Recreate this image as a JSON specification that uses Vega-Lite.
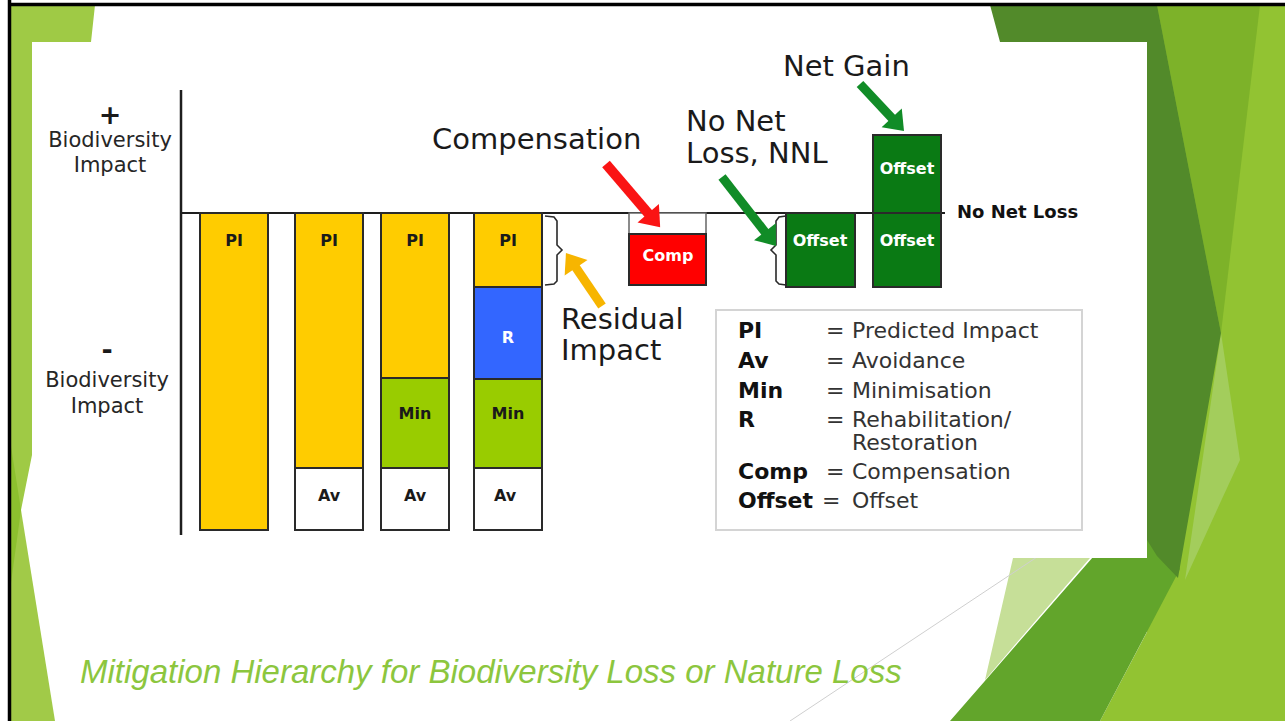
{
"$schema":"https://vega.github.io/schema/vega-lite/v6.json",
"width":1285,"height":721,"padding":0,"autosize":{"type":"none"},
"background":"#ffffff",
"config":{"view":{"stroke":null}},
"datasets":{
"decor":[
{"poly":"rBase","x":1100,"y":-508,"y2":-508},{"poly":"rBase","x":1147,"y":-419,"y2":-508},{"poly":"rBase","x":1147.01,"y":208,"y2":-508},{"poly":"rBase","x":1285,"y":208,"y2":-508},
{"poly":"leftA","x":10,"y":208,"y2":-297},{"poly":"leftA","x":21,"y":208,"y2":-297},{"poly":"leftA","x":32,"y":208,"y2":-242},{"poly":"leftA","x":32.01,"y":208,"y2":171},{"poly":"leftA","x":91,"y":208,"y2":171},{"poly":"leftA","x":95,"y":208,"y2":208},
{"poly":"leftB","x":10,"y":-297,"y2":-508},{"poly":"leftB","x":21,"y":-297,"y2":-508},{"poly":"leftB","x":55,"y":-508,"y2":-508},
{"poly":"leftShade","x":10,"y":-227,"y2":-377},{"poly":"leftShade","x":21,"y":-297,"y2":-297},
{"poly":"rMid","x":1157,"y":208,"y2":208},{"poly":"rMid","x":1221,"y":208,"y2":-120},{"poly":"rMid","x":1260,"y":208,"y2":208},
{"poly":"rPale2","x":1185,"y":-367,"y2":-367},{"poly":"rPale2","x":1221,"y":-120,"y2":-288},{"poly":"rPale2","x":1240,"y":-247,"y2":-247},
{"poly":"rPaleB","x":985,"y":-467,"y2":-467},{"poly":"rPaleB","x":1013,"y":-345,"y2":-434},{"poly":"rPaleB","x":1090,"y":-345,"y2":-345},
{"poly":"rMed","x":950,"y":-508,"y2":-508},{"poly":"rMed","x":1100,"y":-336,"y2":-508},{"poly":"rMed","x":1160,"y":-267,"y2":-394},{"poly":"rMed","x":1180,"y":-356,"y2":-356},
{"poly":"rDark","x":990,"y":208,"y2":208},{"poly":"rDark","x":1000,"y":208,"y2":171},{"poly":"rDark","x":1147,"y":208,"y2":-327},{"poly":"rDark","x":1157,"y":208,"y2":-343},{"poly":"rDark","x":1178,"y":100,"y2":-365},{"poly":"rDark","x":1221,"y":-120,"y2":-120}
],
"lines":[
{"name":"frameTop","x":8,"y":208.5,"x2":1285,"y2":208.5},
{"name":"frameLeft","x":9.5,"y":213,"x2":9.5,"y2":-508},
{"name":"axisV","x":181,"y":123,"x2":181,"y2":-322},
{"name":"axisH","x":181,"y":0,"x2":945,"y2":0},
{"name":"grey","x":790,"y":-508,"x2":1037,"y2":-344}
],
"boxes":[
{"name":"slide","x":32,"x2":1147,"y":171,"y2":-345},
{"name":"legend","x":716,"x2":1082,"y":-97,"y2":-317},
{"name":"compFrame","x":629,"x2":706,"y":0,"y2":-72}
],
"bars":[
{"col":"1","seg":"PI","x":200,"x2":268,"y":0,"y2":-317},
{"col":"2","seg":"PI","x":295,"x2":363,"y":0,"y2":-255},
{"col":"2","seg":"Av","x":295,"x2":363,"y":-255,"y2":-317},
{"col":"3","seg":"PI","x":381,"x2":449,"y":0,"y2":-165},
{"col":"3","seg":"Min","x":381,"x2":449,"y":-165,"y2":-255},
{"col":"3","seg":"Av","x":381,"x2":449,"y":-255,"y2":-317},
{"col":"4","seg":"PI","x":474,"x2":542,"y":0,"y2":-74},
{"col":"4","seg":"R","x":474,"x2":542,"y":-74,"y2":-166},
{"col":"4","seg":"Min","x":474,"x2":542,"y":-166,"y2":-255},
{"col":"4","seg":"Av","x":474,"x2":542,"y":-255,"y2":-317},
{"col":"Comp","seg":"Comp","x":629,"x2":706,"y":-21,"y2":-72},
{"col":"NNL","seg":"Offset","x":786,"x2":855,"y":0,"y2":-74},
{"col":"NG","seg":"Offset","x":873,"x2":941,"y":78,"y2":0},
{"col":"NG","seg":"Offset","x":873,"x2":941,"y":0,"y2":-74}
],
"brackets":[
{"name":"res","o":1,"x":545,"y":-3},{"name":"res","o":2,"x":554,"y":-4},{"name":"res","o":3,"x":557,"y":-8},{"name":"res","o":4,"x":557,"y":-32},{"name":"res","o":5,"x":562,"y":-37},{"name":"res","o":6,"x":557,"y":-42},{"name":"res","o":7,"x":557,"y":-68},{"name":"res","o":8,"x":554,"y":-71},{"name":"res","o":9,"x":545,"y":-72},
{"name":"nnl","o":1,"x":786,"y":-3},{"name":"nnl","o":2,"x":779,"y":-4},{"name":"nnl","o":3,"x":776,"y":-8},{"name":"nnl","o":4,"x":776,"y":-32},{"name":"nnl","o":5,"x":771,"y":-37},{"name":"nnl","o":6,"x":776,"y":-42},{"name":"nnl","o":7,"x":776,"y":-68},{"name":"nnl","o":8,"x":779,"y":-71},{"name":"nnl","o":9,"x":786,"y":-72}
],
"shafts":[
{"name":"red","x":606,"y":49,"x2":649.6,"y2":-1.9},
{"name":"yellow","x":602,"y":-93,"x2":575,"y2":-53.2},
{"name":"gnnl","x":722,"y":36,"x2":766.1,"y2":-20.4},
{"name":"gng","x":860,"y":129,"x2":893.1,"y2":93.7}
],
"heads":[
{"name":"red","x":652.2,"y":-4.9},
{"name":"yellow","x":572.7,"y":-49.9},
{"name":"gnnl","x":768.6,"y":-23.5},
{"name":"gng","x":895.8,"y":90.8}
],
"texts":[
{"g":"big","t":"Compensation","x":432,"y":73},
{"g":"big","t":"No Net","x":686,"y":91},
{"g":"big","t":"Loss, NNL","x":686,"y":59},
{"g":"big","t":"Net Gain","x":783,"y":146},
{"g":"big","t":"Residual","x":561,"y":-107},
{"g":"big","t":"Impact","x":561,"y":-138},
{"g":"axis","t":"Biodiversity","x":110,"y":72},
{"g":"axis","t":"Impact","x":110,"y":47},
{"g":"axis","t":"Biodiversity","x":107,"y":-168},
{"g":"axis","t":"Impact","x":107,"y":-194},
{"g":"sign","t":"+","x":110,"y":97},
{"g":"sign","t":"-","x":107,"y":-138},
{"g":"nnl","t":"No Net Loss","x":957,"y":0},
{"g":"legb","t":"PI","x":738,"y":-118},
{"g":"legb","t":"Av","x":738,"y":-148},
{"g":"legb","t":"Min","x":738,"y":-178},
{"g":"legb","t":"R","x":738,"y":-207},
{"g":"legb","t":"Comp","x":738,"y":-259},
{"g":"legb","t":"Offset","x":738,"y":-288},
{"g":"leg","t":"=","x":826,"y":-118},
{"g":"leg","t":"=","x":826,"y":-148},
{"g":"leg","t":"=","x":826,"y":-178},
{"g":"leg","t":"=","x":826,"y":-207},
{"g":"leg","t":"=","x":826,"y":-259},
{"g":"leg","t":"=","x":822,"y":-288},
{"g":"leg","t":"Predicted Impact","x":852,"y":-118},
{"g":"leg","t":"Avoidance","x":852,"y":-148},
{"g":"leg","t":"Minimisation","x":852,"y":-178},
{"g":"leg","t":"Rehabilitation/","x":852,"y":-207},
{"g":"leg","t":"Restoration","x":852,"y":-230},
{"g":"leg","t":"Compensation","x":852,"y":-259},
{"g":"leg","t":"Offset","x":852,"y":-288},
{"g":"bard","t":"PI","x":234,"y":-28},
{"g":"bard","t":"PI","x":329,"y":-28},
{"g":"bard","t":"PI","x":415,"y":-28},
{"g":"bard","t":"PI","x":508,"y":-28},
{"g":"bard","t":"Av","x":329,"y":-283},
{"g":"bard","t":"Av","x":415,"y":-283},
{"g":"bard","t":"Av","x":505,"y":-283},
{"g":"bard","t":"Min","x":415,"y":-201},
{"g":"bard","t":"Min","x":508,"y":-201},
{"g":"barw","t":"R","x":508,"y":-125},
{"g":"barw","t":"Comp","x":668,"y":-43},
{"g":"barw","t":"Offset","x":820,"y":-28},
{"g":"barw","t":"Offset","x":907,"y":-28},
{"g":"barw","t":"Offset","x":907,"y":44},
{"g":"title","t":"Mitigation Hierarchy for Biodiversity Loss or Nature Loss","x":80,"y":-460}
]
},
"encoding":{
"x":{"field":"x","type":"quantitative","scale":{"domain":[0,1285],"nice":false,"zero":false},"axis":null},
"y":{"field":"y","type":"quantitative","scale":{"domain":[-508,213],"nice":false,"zero":false},"axis":null}
},
"layer":[
{"data":{"name":"decor"},"transform":[{"filter":{"field":"poly","oneOf":["rBase","leftA","leftB"]}}],
 "mark":{"type":"area","opacity":1},
 "encoding":{"y2":{"field":"y2"},"y":{"field":"y","type":"quantitative","stack":null},
  "color":{"field":"poly","type":"nominal","legend":null,"scale":{"domain":["rBase","leftA","leftB","leftShade","rMid","rPale2","rPaleB","rMed","rDark"],"range":["#92c332","#9fca45","#a1ca48","#8cc02e","#7db229","#a3cd5c","#c6df98","#62a52b","#528a2a"]}}}},
{"data":{"name":"decor"},"transform":[{"filter":{"field":"poly","oneOf":["rMid","rPale2","rPaleB","leftShade"]}}],
 "mark":{"type":"area","opacity":1},
 "encoding":{"y2":{"field":"y2"},"y":{"field":"y","type":"quantitative","stack":null},
  "color":{"field":"poly","type":"nominal","legend":null,"scale":{"domain":["rBase","leftA","leftB","leftShade","rMid","rPale2","rPaleB","rMed","rDark"],"range":["#92c332","#9fca45","#a1ca48","#8cc02e","#7db229","#a3cd5c","#c6df98","#62a52b","#528a2a"]}}}},
{"data":{"name":"decor"},"transform":[{"filter":{"field":"poly","oneOf":["rMed"]}}],
 "mark":{"type":"area","opacity":1},
 "encoding":{"y2":{"field":"y2"},"y":{"field":"y","type":"quantitative","stack":null},
  "color":{"field":"poly","type":"nominal","legend":null,"scale":{"domain":["rBase","leftA","leftB","leftShade","rMid","rPale2","rPaleB","rMed","rDark"],"range":["#92c332","#9fca45","#a1ca48","#8cc02e","#7db229","#a3cd5c","#c6df98","#62a52b","#528a2a"]}}}},
{"data":{"name":"decor"},"transform":[{"filter":{"field":"poly","oneOf":["rDark"]}}],
 "mark":{"type":"area","opacity":1},
 "encoding":{"y2":{"field":"y2"},"y":{"field":"y","type":"quantitative","stack":null},
  "color":{"field":"poly","type":"nominal","legend":null,"scale":{"domain":["rBase","leftA","leftB","leftShade","rMid","rPale2","rPaleB","rMed","rDark"],"range":["#92c332","#9fca45","#a1ca48","#8cc02e","#7db229","#a3cd5c","#c6df98","#62a52b","#528a2a"]}}}},
{"data":{"name":"lines"},"transform":[{"filter":"datum.name=='grey'"}],
 "mark":{"type":"rule","stroke":"#cfcfcf","strokeWidth":1},
 "encoding":{"x2":{"field":"x2"},"y2":{"field":"y2"}}},
{"data":{"name":"boxes"},"transform":[{"filter":"datum.name=='slide'"}],
 "mark":{"type":"rect","fill":"#ffffff","stroke":null},
 "encoding":{"x2":{"field":"x2"},"y2":{"field":"y2"}}},
{"data":{"name":"lines"},"transform":[{"filter":"datum.name=='frameTop' || datum.name=='frameLeft'"}],
 "mark":{"type":"rule","stroke":"#000000","strokeWidth":3.5},
 "encoding":{"x2":{"field":"x2"},"y2":{"field":"y2"}}},
{"data":{"name":"boxes"},"transform":[{"filter":"datum.name=='legend'"}],
 "mark":{"type":"rect","fill":"#ffffff","stroke":"#d4d4d4","strokeWidth":2},
 "encoding":{"x2":{"field":"x2"},"y2":{"field":"y2"}}},
{"data":{"name":"lines"},"transform":[{"filter":"datum.name=='axisV'"}],
 "mark":{"type":"rule","stroke":"#1e1e1e","strokeWidth":2.5},
 "encoding":{"x2":{"field":"x2"},"y2":{"field":"y2"}}},
{"data":{"name":"lines"},"transform":[{"filter":"datum.name=='axisH'"}],
 "mark":{"type":"rule","stroke":"#1e1e1e","strokeWidth":2},
 "encoding":{"x2":{"field":"x2"},"y2":{"field":"y2"}}},
{"data":{"name":"boxes"},"transform":[{"filter":"datum.name=='compFrame'"}],
 "mark":{"type":"rect","fill":"#ffffff","stroke":"#666666","strokeWidth":1.5},
 "encoding":{"x2":{"field":"x2"},"y2":{"field":"y2"}}},
{"data":{"name":"bars"},
 "mark":{"type":"rect","stroke":"#2a2a2a","strokeWidth":2},
 "encoding":{"x2":{"field":"x2"},"y2":{"field":"y2"},
  "fill":{"field":"seg","type":"nominal","legend":null,"scale":{"domain":["PI","Av","Min","R","Comp","Offset"],"range":["#ffcc00","#ffffff","#99cc00","#3366ff","#ff0000","#0a7a14"]}}}},
{"data":{"name":"brackets"},
 "mark":{"type":"line","stroke":"#2a2a2a","strokeWidth":1.6},
 "encoding":{"detail":{"field":"name"},"order":{"field":"o","type":"quantitative"}}},
{"data":{"name":"shafts"},"transform":[{"filter":"datum.name=='red'"}],
 "mark":{"type":"rule","stroke":"#fa1414","strokeWidth":10},
 "encoding":{"x2":{"field":"x2"},"y2":{"field":"y2"}}},
{"data":{"name":"shafts"},"transform":[{"filter":"datum.name=='yellow'"}],
 "mark":{"type":"rule","stroke":"#f7b500","strokeWidth":9},
 "encoding":{"x2":{"field":"x2"},"y2":{"field":"y2"}}},
{"data":{"name":"shafts"},"transform":[{"filter":"datum.name=='gnnl' || datum.name=='gng'"}],
 "mark":{"type":"rule","stroke":"#118c27","strokeWidth":9},
 "encoding":{"x2":{"field":"x2"},"y2":{"field":"y2"}}},
{"data":{"name":"heads"},"transform":[{"filter":"datum.name=='red'"}],
 "mark":{"type":"point","shape":"M 1 0 L -0.5 -1.15 L -0.5 1.15 Z","size":600,"angle":49.4,"filled":true,"fill":"#fa1414","opacity":1,"strokeWidth":0}},
{"data":{"name":"heads"},"transform":[{"filter":"datum.name=='yellow'"}],
 "mark":{"type":"point","shape":"M 1 0 L -0.5 -1.15 L -0.5 1.15 Z","size":576,"angle":235.8,"filled":true,"fill":"#f7b500","opacity":1,"strokeWidth":0}},
{"data":{"name":"heads"},"transform":[{"filter":"datum.name=='gnnl'"}],
 "mark":{"type":"point","shape":"M 1 0 L -0.5 -1.15 L -0.5 1.15 Z","size":576,"angle":51.95,"filled":true,"fill":"#118c27","opacity":1,"strokeWidth":0}},
{"data":{"name":"heads"},"transform":[{"filter":"datum.name=='gng'"}],
 "mark":{"type":"point","shape":"M 1 0 L -0.5 -1.15 L -0.5 1.15 Z","size":576,"angle":46.9,"filled":true,"fill":"#118c27","opacity":1,"strokeWidth":0}},
{"data":{"name":"texts"},"transform":[{"filter":"datum.g=='big'"}],
 "mark":{"type":"text","font":"DejaVu Sans","fontSize":29,"fill":"#1a1a1a","align":"left","baseline":"middle"},
 "encoding":{"text":{"field":"t"}}},
{"data":{"name":"texts"},"transform":[{"filter":"datum.g=='axis'"}],
 "mark":{"type":"text","font":"DejaVu Sans","fontSize":21,"fill":"#262626","align":"center","baseline":"middle"},
 "encoding":{"text":{"field":"t"}}},
{"data":{"name":"texts"},"transform":[{"filter":"datum.g=='sign'"}],
 "mark":{"type":"text","font":"DejaVu Sans","fontSize":27,"fontWeight":"bold","fill":"#1a1a1a","align":"center","baseline":"middle"},
 "encoding":{"text":{"field":"t"}}},
{"data":{"name":"texts"},"transform":[{"filter":"datum.g=='nnl'"}],
 "mark":{"type":"text","font":"DejaVu Sans","fontSize":18,"fontWeight":"bold","fill":"#111111","align":"left","baseline":"middle"},
 "encoding":{"text":{"field":"t"}}},
{"data":{"name":"texts"},"transform":[{"filter":"datum.g=='legb'"}],
 "mark":{"type":"text","font":"DejaVu Sans","fontSize":22,"fontWeight":"bold","fill":"#111111","align":"left","baseline":"middle"},
 "encoding":{"text":{"field":"t"}}},
{"data":{"name":"texts"},"transform":[{"filter":"datum.g=='leg'"}],
 "mark":{"type":"text","font":"DejaVu Sans","fontSize":22,"fill":"#333333","align":"left","baseline":"middle"},
 "encoding":{"text":{"field":"t"}}},
{"data":{"name":"texts"},"transform":[{"filter":"datum.g=='bard'"}],
 "mark":{"type":"text","font":"DejaVu Sans","fontSize":16,"fontWeight":"bold","fill":"#1a1a1a","align":"center","baseline":"middle"},
 "encoding":{"text":{"field":"t"}}},
{"data":{"name":"texts"},"transform":[{"filter":"datum.g=='barw'"}],
 "mark":{"type":"text","font":"DejaVu Sans","fontSize":16,"fontWeight":"bold","fill":"#ffffff","align":"center","baseline":"middle"},
 "encoding":{"text":{"field":"t"}}},
{"data":{"name":"texts"},"transform":[{"filter":"datum.g=='title'"}],
 "mark":{"type":"text","font":"Liberation Sans","fontSize":33,"fontStyle":"italic","fill":"#8cc63e","align":"left","baseline":"middle"},
 "encoding":{"text":{"field":"t"}}}
]
}
